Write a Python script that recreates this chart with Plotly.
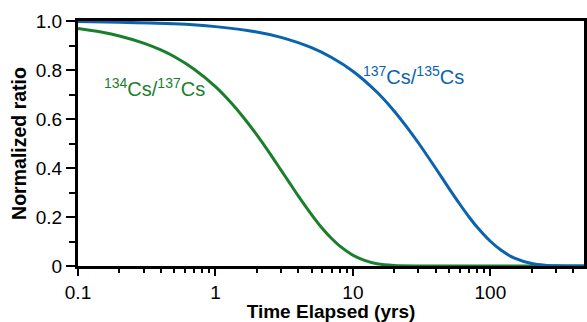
import math
import plotly.graph_objects as go

# ---- data ----
t_green = [0.1, 0.15, 0.2, 0.3, 0.4, 0.5, 0.7, 1, 1.3, 1.6, 2, 2.5, 3, 3.5, 4, 5, 6, 7, 8, 10, 12, 15, 20, 30, 50, 100, 200, 500]
ratio_green = [0.969, 0.954, 0.939, 0.910, 0.882, 0.855, 0.803, 0.732, 0.666, 0.606, 0.535, 0.458, 0.391, 0.335, 0.286, 0.210, 0.153, 0.112, 0.082, 0.044, 0.024, 0.009, 0.002, 0.0, 0.0, 0.0, 0.0, 0.0]

t_blue = [0.1, 0.2, 0.5, 1, 2, 3, 5, 7, 10, 15, 20, 25, 30, 40, 50, 60, 70, 80, 100, 120, 150, 200, 250, 300, 500]
ratio_blue = [0.998, 0.995, 0.989, 0.977, 0.955, 0.933, 0.891, 0.851, 0.795, 0.709, 0.632, 0.563, 0.502, 0.399, 0.317, 0.252, 0.200, 0.159, 0.101, 0.064, 0.032, 0.010, 0.003, 0.001, 0.0]

x_ticks = [0.1, 1, 10, 100]
x_tick_labels = ["0.1", "1", "10", "100"]
x_minor = [0.2, 0.3, 0.4, 0.5, 0.6, 0.7, 0.8, 0.9, 2, 3, 4, 5, 6, 7, 8, 9, 20, 30, 40, 50, 60, 70, 80, 90, 200, 300, 400]
y_ticks = [0, 0.2, 0.4, 0.6, 0.8, 1.0]
y_tick_labels = ["0", "0.2", "0.4", "0.6", "0.8", "1.0"]
y_minor = [0.1, 0.3, 0.5, 0.7, 0.9]

label_green = "<sup>134</sup>Cs/<sup>137</sup>Cs"
label_blue = "<sup>137</sup>Cs/<sup>135</sup>Cs"
x_max = 480

GREEN = "#1a7f2c"
BLUE = "#0b63ae"
FONT = "Liberation Sans, Arial, sans-serif"

fig = go.Figure()
fig.add_trace(go.Scatter(x=t_green, y=ratio_green, mode="lines",
                         line=dict(color=GREEN, width=3, shape="spline", smoothing=0.8),
                         hoverinfo="skip", showlegend=False))
fig.add_trace(go.Scatter(x=t_blue, y=ratio_blue, mode="lines",
                         line=dict(color=BLUE, width=3, shape="spline", smoothing=0.8),
                         hoverinfo="skip", showlegend=False))

fig.add_annotation(x=math.log10(0.362), y=0.729, xref="x", yref="y", text=label_green,
                   showarrow=False, xanchor="center", yanchor="middle",
                   font=dict(family=FONT, size=20, color=GREEN))
fig.add_annotation(x=math.log10(27.5), y=0.778, xref="x", yref="y", text=label_blue,
                   showarrow=False, xanchor="center", yanchor="middle",
                   font=dict(family=FONT, size=20, color=BLUE))

fig.update_layout(
    width=587, height=322,
    margin=dict(l=78, r=3, t=21, b=56, autoexpand=False),
    paper_bgcolor="white", plot_bgcolor="white",
    font=dict(family=FONT, color="black"),
    showlegend=False,
)
fig.update_xaxes(
    type="log", range=[-1, math.log10(x_max)], automargin=False,
    tickmode="array", tickvals=x_ticks, ticktext=x_tick_labels,
    ticks="outside", ticklen=7, tickwidth=2, tickcolor="black",
    minor=dict(tickmode="array", tickvals=x_minor, ticks="outside", ticklen=4, tickwidth=2,
               tickcolor="black", showgrid=False),
    showline=True, linecolor="black", linewidth=3, mirror=True,
    showgrid=False, zeroline=False,
    tickfont=dict(family=FONT, size=19, color="black"),
    title=dict(text="<b>Time Elapsed (yrs)</b>", font=dict(family=FONT, size=19, color="black"), standoff=1),
)
fig.update_yaxes(
    range=[0, 1], automargin=False,
    tickmode="array", tickvals=y_ticks, ticktext=y_tick_labels,
    ticks="outside", ticklen=9, tickwidth=2, tickcolor="black",
    minor=dict(tickmode="array", tickvals=y_minor, ticks="outside", ticklen=6, tickwidth=2,
               tickcolor="black", showgrid=False),
    showline=True, linecolor="black", linewidth=3, mirror=True,
    showgrid=False, zeroline=False,
    tickfont=dict(family=FONT, size=19, color="black"),
    title=dict(text="<b>Normalized ratio</b>", font=dict(family=FONT, size=19.5, color="black"), standoff=4),
)

fig.write_html("out.html", config={"displayModeBar": False},
               post_script="document.body.style.margin='0px';document.body.style.padding='0px';")
